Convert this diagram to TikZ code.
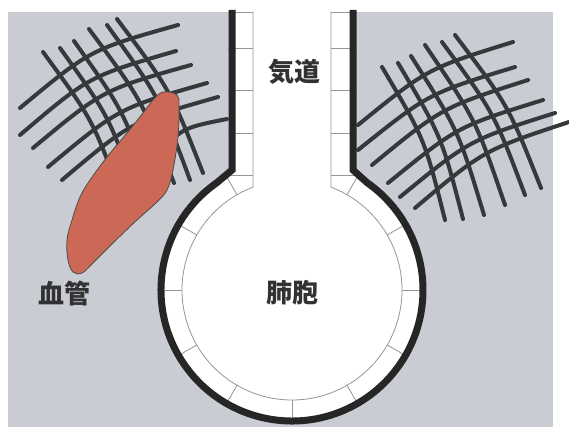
\documentclass[tikz,border=0pt]{standalone}
\usepackage{fontspec}
\newfontfamily\jpfont{Noto Sans CJK JP}
\usetikzlibrary{calc}
\definecolor{tissue}{RGB}{201,205,211}
\definecolor{fibre}{RGB}{52,57,60}
\definecolor{wall}{RGB}{38,38,38}
\definecolor{cellgrey}{RGB}{150,150,150}
\definecolor{vesselred}{RGB}{204,104,86}
\definecolor{labelgrey}{RGB}{50,50,52}

\begin{document}
\begin{tikzpicture}[x=1pt,y=-1pt,
  fiberline/.style={draw=fibre, line width=4pt, line cap=round},
  cellline/.style={draw=cellgrey, line width=0.8pt},
  wallline/.style={draw=wall, line width=7pt, line join=miter},
  vesselshape/.style={draw=black!70, line width=0.8pt, fill=vesselred},
  jplabel/.style={font=\jpfont\bfseries\fontsize{26}{26}\selectfont, text=labelgrey, inner sep=0pt}]
\useasboundingbox (0,0) rectangle (569,427);

% surrounding tissue
\fill[tissue] (8,12) rectangle (553,427);

% elastic fibre meshes: start, end, bow of the curve
\foreach \ax/\ay/\bx/\by/\off in {
    43/52/122/200/12pt, 60/48/137/196/12pt, 74/41/152/192/12pt,
    89/29/174/183/12pt, 107/25/190/180/12pt, 117/19/203/173/12pt,
    20/108/178/25/19pt, 20/135/176/51/19pt, 33/148/191/65/19pt,
    48/167/207/83/19pt, 62/180/218/97/19pt, 150/170/227/119/19pt,
    382/67/445/220/12pt, 398/63/463/219/12pt, 411/56/484/215/12pt,
    425/45/505/205/12pt, 442/42/525/195/12pt, 455/35/541/188/12pt,
    358/125/513/42/17pt, 358/150/515/67/17pt, 372/165/528/80/17pt,
    388/183/543/100/17pt, 400/197/555/113/17pt, 415/208/569/122/17pt}
  \draw[fiberline] (\ax,\ay) .. controls ($(\ax,\ay)!0.5!(\bx,\by)!\off!90:(\bx,\by)$) .. (\bx,\by);

% blood vessel
\draw[vesselshape] plot[smooth cycle, tension=0.6] coordinates {
  (163,92) (177,95) (179,107) (178,137) (173,170) (167,190) (157,202)
  (137,220) (113,243) (93,263) (82,273) (73,272) (68,260) (67,240)
  (72,220) (80,197) (90,180) (107,157) (127,133) (143,113) (153,100)};

% airway and alveolus interior
\fill[white] (232,10) -- (232,170) -- (216.86,182.69)
  arc[start angle=125, end angle=415, radius=131pt] -- (353,170) -- (353,10) -- cycle;

% epithelial cells of the airway
\foreach \yy in {12,48,90,133,175} {
  \draw[cellline] (228,\yy) -- (253,\yy);
  \draw[cellline] (331,\yy) -- (357,\yy);
}
% epithelial cells of the alveolus
\foreach \a in {0,30,60,120,150,180,210,240,270,300,330}
  \draw[cellline] ($(292,290)+(\a:110pt)$) -- ($(292,290)+(\a:131pt)$);

% inner surface
\draw[cellline] (253,12) -- (253,187.15)
  arc[start angle=110.77, end angle=429.23, radius=110pt] -- (331,12);

% outer wall
\draw[wallline] (232,10) -- (232,170) -- (216.86,182.69)
  arc[start angle=125, end angle=415, radius=131pt] -- (353,170) -- (353,10);

% labels
\node[jplabel] (airway) at (294,72) {気道};
\node[jplabel] (alveolus) at (292,293) {肺胞};
\node[jplabel] (vessel) at (64,294) {血管};
\end{tikzpicture}
\end{document}
